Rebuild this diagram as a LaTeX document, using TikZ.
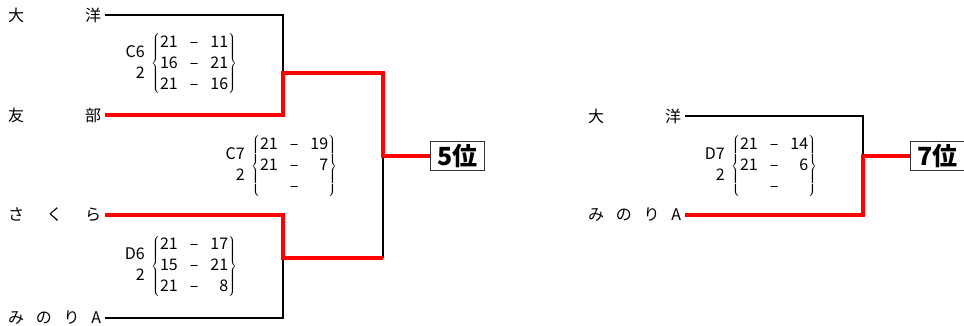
\documentclass[tikz,border=0pt]{standalone}
\usepackage{fontspec}
\setmainfont{Noto Sans CJK JP}
\usetikzlibrary{positioning}

\begin{document}
\begin{tikzpicture}[
      x=1pt,
      y=-1pt,
      team/.style = {anchor=west, inner xsep=4pt, inner ysep=0pt,
          font=\fontsize{16}{16}\selectfont},
      game/.style = {anchor=west, inner sep=0pt,
          font=\fontsize{16}{21}\selectfont},
      gameid/.style = {anchor=east, inner sep=0pt,
          font=\fontsize{16}{21}\selectfont},
      rank/.style = {draw=black!80, line width=1pt, inner sep=0pt,
          minimum width=54pt, minimum height=29pt,
          font=\fontsize{25}{25}\selectfont\bfseries},
      lose/.style = {line width=2pt},
      win/.style = {line width=4.5pt, red}
    ]
    \useasboundingbox (0,0) rectangle (964,326);

    % teams
    \node[team] (t1) at (4,15)  {\makebox[93pt][s]{大\hfill 洋}};
    \node[team] (t2) at (4,115) {\makebox[93pt][s]{友\hfill 部}};
    \node[team] (t3) at (4,215) {\makebox[93pt][s]{さ\hfill く\hfill ら}};
    \node[team] (t4) at (4,318) {\makebox[93pt][s]{み\hfill の\hfill り\hfill A}};
    \node[team] (t5) at (584,116) {\makebox[93pt][s]{大\hfill 洋}};
    \node[team] (t6) at (584,215) {\makebox[93pt][s]{み\hfill の\hfill り\hfill A}};

    \coordinate (m1) at (283,73);
    \coordinate (m2) at (283,258);
    \coordinate (r1) at (383,73);
    \coordinate (r2) at (383,258);
    \coordinate (f5) at (383,156);
    \coordinate (f7) at (863,156);

    \node[rank, right=47pt of f5] (p5) {5位};
    \node[rank, right=47pt of f7] (p7) {7位};

    % scores
    \node[gameid] (c6) at (145,64) {\begin{tabular}{@{}r@{}}C6\\2\\ \end{tabular}};
    \node[game] (s6) at (151,64) {$\left\{\begin{tabular}{@{}r@{\hspace{12pt}}c@{\hspace{12pt}}r@{}}
        21 & -- & 11\\ 16 & -- & 21\\ 21 & -- & 16\end{tabular}\right\}$};
    \node[gameid] (c7) at (245,166) {\begin{tabular}{@{}r@{}}C7\\2\\ \end{tabular}};
    \node[game] (s7) at (251,166) {$\left\{\begin{tabular}{@{}r@{\hspace{12pt}}c@{\hspace{12pt}}r@{}}
        21 & -- & 19\\ 21 & -- & 7\\ & -- & \end{tabular}\right\}$};
    \node[gameid] (d6) at (145,266) {\begin{tabular}{@{}r@{}}D6\\2\\ \end{tabular}};
    \node[game] (s8) at (151,266) {$\left\{\begin{tabular}{@{}r@{\hspace{12pt}}c@{\hspace{12pt}}r@{}}
        21 & -- & 17\\ 15 & -- & 21\\ 21 & -- & 8\end{tabular}\right\}$};
    \node[gameid] (d7) at (725,166) {\begin{tabular}{@{}r@{}}D7\\2\\ \end{tabular}};
    \node[game] (s9) at (731,166) {$\left\{\begin{tabular}{@{}r@{\hspace{12pt}}c@{\hspace{12pt}}r@{}}
        21 & -- & 14\\ 21 & -- & 6\\ & -- & \end{tabular}\right\}$};

    % bracket
    \draw[lose] (t1.east) -| (m1);
    \draw[lose] (t4.east) -| (m2);
    \draw[lose] (r2) -- (f5);
    \draw[lose] (t5.east) -| (f7);

    \draw[win] (t2.east) -| (m1) -- (r1) -- (f5) -- (p5.west);
    \draw[win] (t3.east) -| (m2) -- (r2);
    \draw[win] (t6.east) -| (f7) -- (p7.west);
  \end{tikzpicture}
\end{document}
